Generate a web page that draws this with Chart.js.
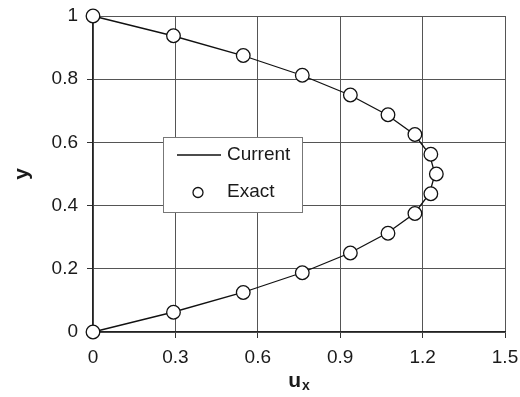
<!DOCTYPE html>
<html>
<head>
<meta charset="utf-8">
<script src="https://cdn.jsdelivr.net/npm/chart.js@4"></script>
<style>
  html, body { margin: 0; padding: 0; background: #fff; }
  #wrap { width: 520px; height: 397px; position: relative; }
</style>
</head>
<body>
<div id="wrap"><canvas id="chart"></canvas></div>
<script>
// data
const yValues = [0, 0.0625, 0.125, 0.1875, 0.25, 0.3125, 0.375, 0.4375, 0.5,
                 0.5625, 0.625, 0.6875, 0.75, 0.8125, 0.875, 0.9375, 1];
const currentU = [0, 0.29, 0.545, 0.76, 0.935, 1.07, 1.17, 1.225, 1.245,
                  1.225, 1.17, 1.07, 0.935, 0.76, 0.545, 0.29, 0];
const exactU = [0, 0.293, 0.547, 0.762, 0.937, 1.074, 1.172, 1.23, 1.25,
                1.23, 1.172, 1.074, 0.937, 0.762, 0.547, 0.293, 0];
const xTicks = [0, 0.3, 0.6, 0.9, 1.2, 1.5];
const yTicks = [0, 0.2, 0.4, 0.6, 0.8, 1];
const legendLabels = ["Current", "Exact"];

const FONT = "'Liberation Sans', Arial, Helvetica, sans-serif";
const TEXT = "#1a1a1a";

const toPoints = (xs, ys) => xs.map((x, i) => ({ x: x, y: ys[i] }));

// titles + legend box drawn inside the plot
const extras = {
    id: "extras",
    afterDraw(chart) {
        const c = chart.ctx;
        const a = chart.chartArea;
        c.save();
        c.fillStyle = TEXT;

        // y title
        c.font = "bold 21px " + FONT;
        c.translate(22, (a.top + a.bottom) / 2);
        c.rotate(-Math.PI / 2);
        c.textAlign = "center";
        c.textBaseline = "middle";
        c.fillText("y", 0, 0);
        c.setTransform(1, 0, 0, 1, 0, 0);

        // x title u_x
        const cx = (a.left + a.right) / 2;
        c.textAlign = "left";
        c.textBaseline = "alphabetic";
        c.font = "bold 21px " + FONT;
        const uw = c.measureText("u").width;
        c.font = "bold 14px " + FONT;
        const xw = c.measureText("x").width;
        const x0 = cx - (uw + xw + 1) / 2;
        c.font = "bold 21px " + FONT;
        c.fillText("u", x0, 387);
        c.font = "bold 14px " + FONT;
        c.fillText("x", x0 + uw + 1, 390);

        // legend
        const bx = 163, by = 137, bw = 139, bh = 75;
        c.fillStyle = "#fff";
        c.fillRect(bx, by, bw, bh);
        c.strokeStyle = "#777";
        c.lineWidth = 1;
        c.strokeRect(bx + 0.5, by + 0.5, bw, bh);

        c.strokeStyle = "#111";
        c.lineWidth = 1.3;
        c.beginPath();
        c.moveTo(177, 155);
        c.lineTo(221, 155);
        c.stroke();

        c.beginPath();
        c.arc(198, 192.5, 5, 0, Math.PI * 2);
        c.fillStyle = "#fff";
        c.fill();
        c.stroke();

        c.fillStyle = TEXT;
        c.font = "19px " + FONT;
        c.textBaseline = "middle";
        c.fillText(legendLabels[0], 227, 155);
        c.fillText(legendLabels[1], 227, 192);
        c.restore();
    }
};

new Chart(document.getElementById("chart"), {
    type: "scatter",
    data: {
        datasets: [
            {
                label: legendLabels[1],
                data: toPoints(exactU, yValues),
                showLine: false,
                pointRadius: 6.8,
                pointBackgroundColor: "#fff",
                pointBorderColor: "#111",
                pointBorderWidth: 1.3,
                clip: false,
                order: 0
            },
            {
                label: legendLabels[0],
                data: toPoints(currentU, yValues),
                showLine: true,
                borderColor: "#111",
                borderWidth: 1.3,
                pointRadius: 0,
                tension: 0,
                clip: false,
                order: 1
            }
        ]
    },
    options: {
        responsive: true,
        maintainAspectRatio: false,
        animation: false,
        layout: { padding: { top: 16, right: 15, left: 0, bottom: 0 } },
        plugins: { legend: { display: false }, tooltip: { enabled: false } },
        scales: {
            x: {
                type: "linear",
                min: 0, max: 1.5,
                afterBuildTicks: s => { s.ticks = xTicks.map(v => ({ value: v })); },
                afterFit: s => { s.height = 65; s.paddingLeft = 0; s.paddingRight = 0; },
                grid: { color: "#555", lineWidth: 1, tickLength: 6, tickColor: "#333" },
                border: { color: "#222", width: 1.3 },
                ticks: { color: TEXT, font: { family: FONT, size: 19 }, padding: 8,
                         callback: v => String(v) }
            },
            y: {
                type: "linear",
                min: 0, max: 1,
                afterBuildTicks: s => { s.ticks = yTicks.map(v => ({ value: v })); },
                afterFit: s => { s.width = 93; s.paddingTop = 0; s.paddingBottom = 0; },
                grid: { color: "#555", lineWidth: 1, tickLength: 6, tickColor: "#333" },
                border: { color: "#222", width: 1.3 },
                ticks: { color: TEXT, font: { family: FONT, size: 19 }, padding: 9,
                         callback: v => String(v) }
            }
        }
    },
    plugins: [extras]
});
</script>
</body>
</html>
